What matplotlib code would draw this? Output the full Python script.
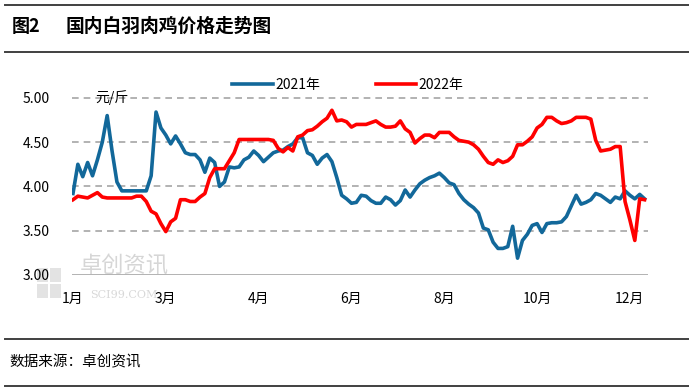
import numpy as np
import matplotlib.pyplot as plt
from matplotlib.lines import Line2D
from matplotlib.patches import Rectangle

plt.rcParams['font.family'] = ['Noto Sans CJK SC', 'DejaVu Sans']

# Data (category index along x, price in 元/斤)
tick_labels = ['1月', '3月', '4月', '6月', '8月', '10月', '12月']
tick_step   = 19

price_2021 = [
    3.92, 4.25, 4.11, 4.27, 4.12, 4.30, 4.50, 4.80, 4.40, 4.05,
    3.95, 3.95, 3.95, 3.95, 3.95, 3.95, 4.12, 4.84, 4.66, 4.58,
    4.48, 4.57, 4.48, 4.38, 4.36, 4.36, 4.30, 4.16, 4.32, 4.27,
    4.00, 4.05, 4.22, 4.21, 4.22, 4.30, 4.33, 4.40, 4.35, 4.28,
    4.33, 4.38, 4.40, 4.41, 4.45, 4.48, 4.55, 4.55, 4.38, 4.35,
    4.25, 4.32, 4.36, 4.28, 4.10, 3.90, 3.86, 3.81, 3.82, 3.90,
    3.89, 3.84, 3.81, 3.81, 3.88, 3.85, 3.79, 3.84, 3.96, 3.88,
    3.96, 4.03, 4.07, 4.10, 4.12, 4.15, 4.10, 4.04, 4.02, 3.92,
    3.85, 3.80, 3.76, 3.70, 3.53, 3.51, 3.37, 3.30, 3.30, 3.32,
    3.55, 3.19, 3.39, 3.46, 3.56, 3.58, 3.48, 3.58, 3.59, 3.59,
    3.60, 3.66, 3.78, 3.90, 3.80, 3.82, 3.85, 3.92, 3.90, 3.86,
    3.82, 3.88, 3.86, 3.95, 3.90, 3.86, 3.91, 3.86,
]

price_2022 = [
    3.85, 3.89, 3.88, 3.87, 3.90, 3.93, 3.88, 3.87, 3.87, 3.87,
    3.87, 3.87, 3.87, 3.89, 3.89, 3.83, 3.72, 3.69, 3.58, 3.49,
    3.60, 3.64, 3.85, 3.85, 3.83, 3.83, 3.88, 3.92, 4.10, 4.20,
    4.20, 4.20, 4.29, 4.38, 4.53, 4.53, 4.53, 4.53, 4.53, 4.53,
    4.53, 4.52, 4.43, 4.39, 4.44, 4.40, 4.56, 4.58, 4.63, 4.64,
    4.68, 4.73, 4.77, 4.86, 4.74, 4.75, 4.73, 4.67, 4.70, 4.70,
    4.70, 4.72, 4.74, 4.70, 4.67, 4.67, 4.68, 4.74, 4.65, 4.61,
    4.49, 4.54, 4.58, 4.58, 4.55, 4.61, 4.61, 4.61, 4.56, 4.52,
    4.51, 4.50, 4.47, 4.42, 4.34, 4.27, 4.25, 4.30, 4.27, 4.29,
    4.34, 4.47, 4.47, 4.51, 4.56, 4.66, 4.70, 4.78, 4.78, 4.74,
    4.71, 4.72, 4.74, 4.78, 4.78, 4.78, 4.76, 4.52, 4.40, 4.41,
    4.42, 4.45, 4.45, 3.83, 3.62, 3.39, 3.86, 3.85,
]

y_ticks = [3.00, 3.50, 4.00, 4.50, 5.00]

# Figure
fig = plt.figure(figsize=(6.89, 3.91), dpi=100)
ax = fig.add_axes([72/689, 116/391, 576/689, 186/391])

# Watermark (behind everything)
for (x0, y0) in [(37, 268), (50, 268), (37, 284), (50, 284)]:
    fig.add_artist(Rectangle((x0/689, 1 - (y0 + 14)/391), 11/689, 14/391,
                             color='#E3E3E3', lw=0, zorder=0))
fig.text(80/689, 1 - 266/391, '卓创资讯', fontsize=16, color='#D6D6D6',
         ha='left', va='center', zorder=0)
fig.text(90/689, 1 - 295/391, 'SCI99.COM', fontsize=8, color='#D8D8D8',
         family='DejaVu Serif', ha='left', va='center', zorder=0)
ax.patch.set_alpha(0)

x = np.arange(len(price_2021))
ax.plot(x, price_2021, color='#12689A', lw=2.6, label='2021年', zorder=3)
ax.plot(x, price_2022, color='#FF0000', lw=2.6, label='2022年', zorder=4)

ax.set_xlim(-0.2, 117.7)
ax.set_ylim(3.0, 5.1)

for y in y_ticks[1:]:
    ax.axhline(y, color='#A6A6A6', lw=1.2, ls=(0, (4, 3)), zorder=1)
ax.axhline(3.0, color='#A6A6A6', lw=1.2, zorder=2)

ax.set_yticks(y_ticks)
ax.set_yticklabels(['{:.2f}'.format(v) for v in y_ticks], fontsize=10)
ax.set_xticks(np.arange(len(tick_labels))*tick_step)
ax.set_xticklabels(tick_labels, fontsize=10)
ax.tick_params(axis='y', length=0, pad=16)
ax.tick_params(axis='x', length=0, pad=12)
for s in ax.spines.values():
    s.set_visible(False)

ax.text(4.5, 5.0, '元/斤', fontsize=10, ha='left', va='center', zorder=5)

# Legend
fig.legend(loc='center', bbox_to_anchor=(348/689, 1 - 85/391), ncol=2,
           frameon=False, fontsize=10, handlelength=2.9, columnspacing=4.0,
           handletextpad=0.2)

# Title, source and rules
fig.text(12/689, 1 - 26/391, '图2', fontsize=13, fontweight='bold',
         ha='left', va='center')
fig.text(66/689, 1 - 26/391, '国内白羽肉鸡价格走势图', fontsize=13.5,
         fontweight='bold', ha='left', va='center')
fig.text(9/689, 1 - 362/391, '数据来源：卓创资讯', fontsize=10.5,
         ha='left', va='center')
for yy in [5, 52, 339, 386]:
    fig.add_artist(Line2D([5/689, 1], [1 - yy/391]*2, color='#404040', lw=1.4))

fig.savefig('out.png', dpi=100)
